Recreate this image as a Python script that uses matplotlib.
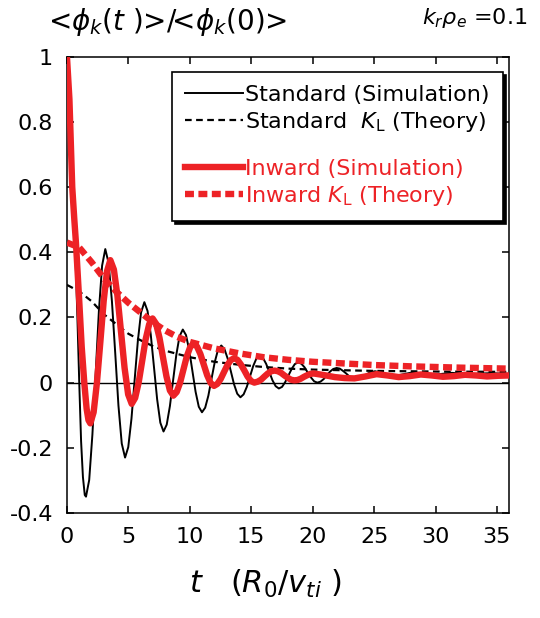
import matplotlib
matplotlib.use('Agg')
import matplotlib.pyplot as plt
from matplotlib.lines import Line2D

plt.rcParams['font.family'] = ['DejaVu Sans']
plt.rcParams['axes.unicode_minus'] = False

RED = '#ed2226'

# Standard (Simulation)
std_t = [0, 0.2, 0.43, 0.7, 0.85, 1.0, 1.15, 1.3, 1.45,
         1.55, 1.81, 2.07, 2.34, 2.6, 2.86, 3.12,
         3.39, 3.66, 3.93, 4.19, 4.46, 4.73,
         4.99, 5.25, 5.51, 5.77, 6.03, 6.3,
         6.56, 6.82, 7.08, 7.34, 7.6, 7.86,
         8.12, 8.38, 8.64, 8.9, 9.16, 9.43,
         9.69, 9.95, 10.21, 10.47, 10.73, 10.99,
         11.25, 11.51, 11.77, 12.03, 12.29, 12.56,
         12.82, 13.08, 13.34, 13.6, 13.86, 14.12,
         14.38, 14.64, 14.9, 15.16, 15.42, 15.69,
         15.95, 16.21, 16.47, 16.73, 16.99, 17.25,
         17.51, 17.77, 18.03, 18.29, 18.55, 18.82,
         19.08, 19.34, 19.6, 19.86, 20.12, 20.38,
         20.64, 20.9, 21.16, 21.42, 21.68, 21.95,
         22.21, 22.47, 22.73, 22.99, 23.25, 23.51,
         23.77, 24.03, 24.29, 24.55, 24.81, 25.08,
         25.86, 26.64, 27.42, 28.2, 29.0, 29.8, 30.55, 31.3,
         32.1, 32.9, 33.7, 34.5, 35.25, 36.0]
std_v = [1.0, 0.87, 0.6, 0.38, 0.2, 0.0, -0.18, -0.29, -0.345,
         -0.35, -0.299, -0.16, 0.03, 0.22, 0.359, 0.41,
         0.367, 0.25, 0.09, -0.07, -0.187, -0.23,
         -0.198, -0.111, 0.009, 0.128, 0.215, 0.247,
         0.22, 0.148, 0.049, -0.051, -0.123, -0.15,
         -0.129, -0.072, 0.007, 0.085, 0.142, 0.163,
         0.146, 0.10, 0.036, -0.028, -0.074, -0.091,
         -0.077, -0.04, 0.012, 0.063, 0.1, 0.114,
         0.103, 0.074, 0.035, -0.005, -0.034, -0.045,
         -0.036, -0.013, 0.019, 0.051, 0.074, 0.083,
         0.076, 0.058, 0.033, 0.007, -0.011, -0.018,
         -0.013, 0.002, 0.022, 0.042, 0.057, 0.062,
         0.058, 0.047, 0.031, 0.016, 0.004, 0.0,
         0.003, 0.011, 0.023, 0.034, 0.042, 0.045,
         0.043, 0.036, 0.028, 0.019, 0.012, 0.01,
         0.012, 0.016, 0.023, 0.029, 0.033, 0.035,
         0.028, 0.02, 0.026, 0.032, 0.028, 0.024, 0.027, 0.03,
         0.028, 0.026, 0.028, 0.029, 0.028, 0.027]

# Standard K_L (Theory)
stdK_t = [0, 1, 2, 3, 4, 5, 6, 7, 8, 10, 12, 14, 16, 18, 20, 25, 30, 36]
stdK_v = [0.30, 0.28, 0.25, 0.21, 0.18, 0.15, 0.13, 0.112, 0.098,
          0.078, 0.064, 0.055, 0.048, 0.043, 0.04, 0.036, 0.034, 0.033]

# Inward (Simulation)
inw_t = [0, 0.2, 0.43, 0.6, 0.73, 1.0, 1.2, 1.41, 1.6, 1.75,
         1.9, 2.17, 2.44, 2.72, 2.99, 3.26, 3.53,
         3.82, 4.11, 4.40, 4.69, 4.98, 5.27,
         5.55, 5.84, 6.12, 6.40, 6.69, 6.97,
         7.25, 7.53, 7.81, 8.10, 8.38, 8.66,
         8.93, 9.21, 9.48, 9.75, 10.03, 10.3,
         10.58, 10.86, 11.14, 11.41, 11.69, 11.97,
         12.24, 12.51, 12.79, 13.06, 13.33, 13.6,
         13.88, 14.15, 14.43, 14.70, 14.98, 15.25,
         15.53, 15.8, 16.08, 16.35, 16.63, 16.9,
         17.17, 17.43, 17.7, 17.97, 18.23, 18.5,
         18.77, 19.03, 19.3, 19.57, 19.83, 20.1,
         20.95, 21.8, 22.6, 23.4, 24.3, 25.2, 26.1, 27.0, 27.9, 28.8,
         29.7, 30.6, 31.5, 32.4, 33.3, 34.2, 35.1, 36.0]
inw_v = [1.0, 0.87, 0.6, 0.5, 0.43, 0.25, 0.11, 0.0, -0.08, -0.115,
         -0.125, -0.091, 0.0, 0.126, 0.251, 0.342, 0.376,
         0.347, 0.266, 0.156, 0.045, -0.036, -0.065,
         -0.047, 0.001, 0.066, 0.132, 0.179, 0.197,
         0.181, 0.138, 0.079, 0.019, -0.024, -0.04,
         -0.029, 0.0, 0.04, 0.08, 0.109, 0.12,
         0.111, 0.088, 0.055, 0.023, -0.001, -0.01,
         -0.004, 0.011, 0.033, 0.054, 0.069, 0.075,
         0.07, 0.056, 0.038, 0.019, 0.005, 0.0,
         0.003, 0.009, 0.019, 0.028, 0.035, 0.037,
         0.035, 0.03, 0.022, 0.015, 0.009, 0.007,
         0.008, 0.012, 0.018, 0.023, 0.027, 0.028,
         0.023, 0.017, 0.014, 0.013, 0.019, 0.026, 0.022, 0.017, 0.02, 0.025,
         0.022, 0.018, 0.02, 0.024, 0.022, 0.019, 0.021, 0.022]

# Inward K_L (Theory)
inwK_t = [0, 1, 2, 3, 4, 5, 6, 7, 8, 9, 10, 12, 14, 16, 18, 20, 22, 25, 28, 32, 36]
inwK_v = [0.43, 0.415, 0.37, 0.32, 0.28, 0.245, 0.215, 0.185, 0.16, 0.14,
          0.125, 0.105, 0.09, 0.078, 0.07, 0.064, 0.06, 0.054, 0.05, 0.046, 0.043]

x_ticks = [0, 5, 10, 15, 20, 25, 30, 35]
y_ticks = [-0.4, -0.2, 0, 0.2, 0.4, 0.6, 0.8, 1]
y_labels = ['-0.4', '-0.2', '0', '0.2', '0.4', '0.6', '0.8', '1']

fig = plt.figure(figsize=(5.4, 6.18), dpi=100)
ax = fig.add_axes([0.124, 0.170, 0.819, 0.738])

ax.axhline(0, color='k', lw=1.0, zorder=1)
ax.plot(std_t, std_v, color='k', lw=1.4, zorder=2)
ax.plot(stdK_t, stdK_v, color='k', lw=1.6, dashes=(3, 2), zorder=2)
ax.plot(inwK_t, inwK_v, color=RED, lw=4.6, dashes=(1.4, 0.7), zorder=3)
ax.plot(inw_t, inw_v, color=RED, lw=4.6, zorder=4)

ax.set_xlim(0, 36)
ax.set_ylim(-0.4, 1.0)
ax.set_xticks(x_ticks)
ax.set_yticks(y_ticks)
ax.set_yticklabels(y_labels)
ax.tick_params(direction='in', top=True, right=True, length=5, width=1.1,
               labelsize=16)
ax.tick_params(axis='y', pad=10)
ax.tick_params(axis='x', pad=10)
for s in ax.spines.values():
    s.set_linewidth(1.1)

handles = [
    Line2D([], [], color='k', lw=1.4),
    Line2D([], [], color='k', lw=1.6, dashes=(3, 2)),
    Line2D([], [], color='none'),
    Line2D([], [], color=RED, lw=4.6),
    Line2D([], [], color=RED, lw=4.6, dashes=(1.4, 0.7)),
]
labels = ['Standard (Simulation)', r'Standard  $K_{\mathrm{L}}$ (Theory)', ' ',
          'Inward (Simulation)', r'Inward $K_{\mathrm{L}}$ (Theory)']
leg = ax.legend(handles, labels, loc='upper right', bbox_to_anchor=(0.986, 0.967),
                borderaxespad=0, fontsize=16, frameon=True, fancybox=False,
                edgecolor='k', shadow={'color': 'k', 'alpha': 1},
                handlelength=2.6, handletextpad=0.1, labelspacing=0.2,
                borderpad=0.6)
leg.get_frame().set_linewidth(1.2)
leg.get_frame().set_alpha(1)
leg.get_texts()[2].set_fontsize(3)
for txt in leg.get_texts()[3:]:
    txt.set_color(RED)

fig.text(48 / 540, 1 - 30 / 618, r'<$\phi_k$($t$ )>/<$\phi_k$(0)>', fontsize=20,
         va='baseline', ha='left')
fig.text(527 / 540, 1 - 24 / 618, r'$k_r\rho_e$ =0.1', fontsize=16,
         va='baseline', ha='right')
ax.set_xlabel(r'$t$   ($R_0$/$v_{ti}$ )', fontsize=22)
ax.xaxis.set_label_coords(0.45, -0.12)
ax.xaxis.label.set_va('top')

fig.savefig('out.png', dpi=100)
